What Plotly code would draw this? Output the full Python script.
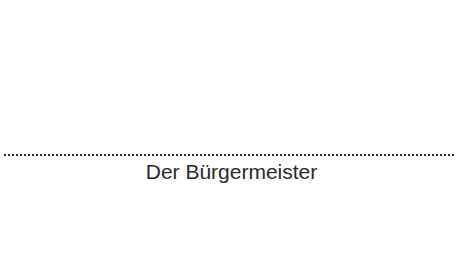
import plotly.graph_objects as go

# Printed elements of the signature block (the handwritten signature itself is intentionally not reproduced)
rule_x = [4, 456]
rule_y = [155, 155]
caption_text = "Der Bürgermeister"
caption_x = [231.5]
caption_y = [174]

fig = go.Figure()
fig.add_trace(go.Scatter(
    x=rule_x, y=rule_y, mode="lines",
    line=dict(color="#2b2b2b", width=2.2, dash="2px,2px"),
    hoverinfo="skip", showlegend=False,
))
fig.add_trace(go.Scatter(
    x=caption_x, y=caption_y, mode="text", text=[caption_text],
    textfont=dict(family="Liberation Sans, Arial, sans-serif", size=21, color="#2a2a2a"),
    hoverinfo="skip", showlegend=False,
))
fig.update_layout(
    width=456, height=257,
    margin=dict(l=0, r=0, t=0, b=0),
    paper_bgcolor="white", plot_bgcolor="white",
    xaxis=dict(range=[0, 456], visible=False, fixedrange=True),
    yaxis=dict(range=[257, 0], visible=False, fixedrange=True),
)
fig.write_html(
    "out.html",
    config={"displayModeBar": False},
    post_script="document.body.style.margin='0';document.body.style.overflow='hidden';",
)
